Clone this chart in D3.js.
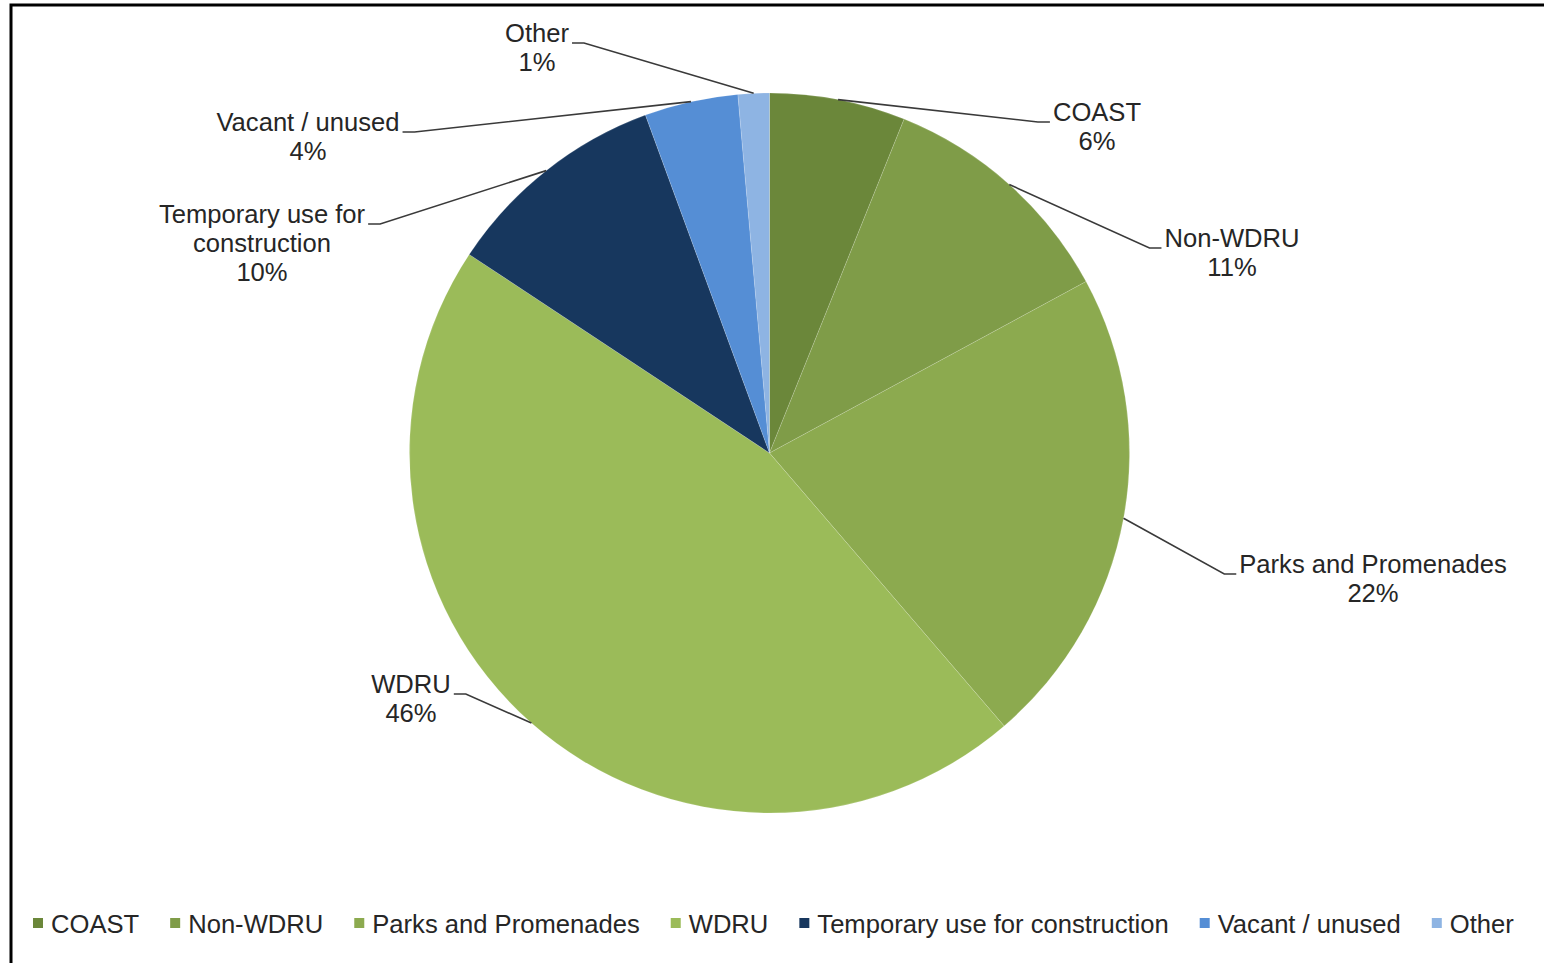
<!DOCTYPE html>
<html>
<head>
<meta charset="utf-8">
<script src="https://cdn.jsdelivr.net/npm/d3@7"></script>
<style>
  html, body { margin: 0; padding: 0; background: #fff; }
  svg { display: block; }
  text { font-family: "Liberation Sans", Arial, sans-serif; fill: #262626; }
</style>
</head>
<body>
<svg id="chart" width="1544" height="963"></svg>
<script>
// Land use shares (percent of total area)
const categories = ["COAST", "Non-WDRU", "Parks and Promenades", "WDRU",
                    "Temporary use for construction", "Vacant / unused", "Other"];
const values = [6.1, 11.0, 21.6, 45.6, 10.1, 4.2, 1.4];
const colors = ["#6b873a", "#7f9c48", "#8caa4f", "#9bbb59", "#17375e", "#558ed5", "#8eb4e3"];

// Label text split over lines (the last line gets the percentage)
const labelLines = [["COAST"], ["Non-WDRU"], ["Parks and Promenades"], ["WDRU"],
                    ["Temporary use for", "construction"], ["Vacant / unused"], ["Other"]];
// Where each label block sits: centre x, first baseline y, side of the pie
const labelPos = [
  { x: 1097, y: 121, side: "right" },
  { x: 1232, y: 247, side: "right" },
  { x: 1373, y: 573, side: "right" },
  { x: 411,  y: 693, side: "left" },
  { x: 262,  y: 223, side: "left" },
  { x: 308,  y: 131, side: "left" },
  { x: 537,  y: 42,  side: "left" }
];

const svg = d3.select("#chart");
const cx = 769.5, cy = 453, R = 360;
const fontSize = 25.6, lineH = 29;

// Outer frame (right and bottom edges fall outside the page)
svg.append("rect")
  .attr("x", 11).attr("y", 5).attr("width", 1700).attr("height", 1100)
  .attr("fill", "none").attr("stroke", "#000").attr("stroke-width", 3);

const total = d3.sum(values);
const data = categories.map((c, i) => ({ name: c, value: values[i], i }));

const pie = d3.pie().sort(null).value(d => d.value).startAngle(0).endAngle(2 * Math.PI);
const arcs = pie(data);
const arc = d3.arc().innerRadius(0).outerRadius(R);

const g = svg.append("g").attr("transform", `translate(${cx},${cy})`);
g.selectAll("path.slice")
  .data(arcs)
  .join("path")
  .attr("class", "slice")
  .attr("d", arc)
  .attr("fill", d => colors[d.data.i])
  .attr("stroke", "rgba(255,255,255,0.15)")
  .attr("stroke-width", 1);

// Data labels with leader lines
const labels = svg.append("g");
arcs.forEach(d => {
  const i = d.data.i;
  const pos = labelPos[i];
  const pct = Math.round(d.data.value / total * 100) + "%";
  const lines = labelLines[i].concat([pct]);
  const t = labels.append("text")
    .attr("font-size", fontSize)
    .attr("text-anchor", "middle");
  lines.forEach((ln, k) => {
    t.append("tspan").attr("x", pos.x).attr("y", pos.y + k * lineH).text(ln);
  });
  // width of the first line to attach the leader to its end
  const firstW = t.select("tspan").node().getComputedTextLength();
  const mid = (d.startAngle + d.endAngle) / 2;
  const sx = cx + R * Math.sin(mid);
  const sy = cy - R * Math.cos(mid);
  const ly = pos.y + 1;
  let ex, hx;
  if (pos.side === "right") {
    hx = pos.x - firstW / 2 - 3;
    ex = hx - 12;
  } else {
    hx = pos.x + firstW / 2 + 3;
    ex = hx + 12;
  }
  labels.append("path")
    .attr("d", `M${sx},${sy}L${ex},${ly}L${hx},${ly}`)
    .attr("fill", "none")
    .attr("stroke", "#3a3a3a")
    .attr("stroke-width", 1.6);
});

// Legend along the bottom
const legend = svg.append("g").attr("transform", "translate(0,933)");
let lx = 33;
categories.forEach((c, i) => {
  legend.append("rect")
    .attr("x", lx).attr("y", -15).attr("width", 10).attr("height", 10)
    .attr("fill", colors[i]);
  const t = legend.append("text")
    .attr("x", lx + 18).attr("y", 0)
    .attr("font-size", fontSize)
    .text(c);
  lx += 18 + t.node().getComputedTextLength() + 31;
});
</script>
</body>
</html>
